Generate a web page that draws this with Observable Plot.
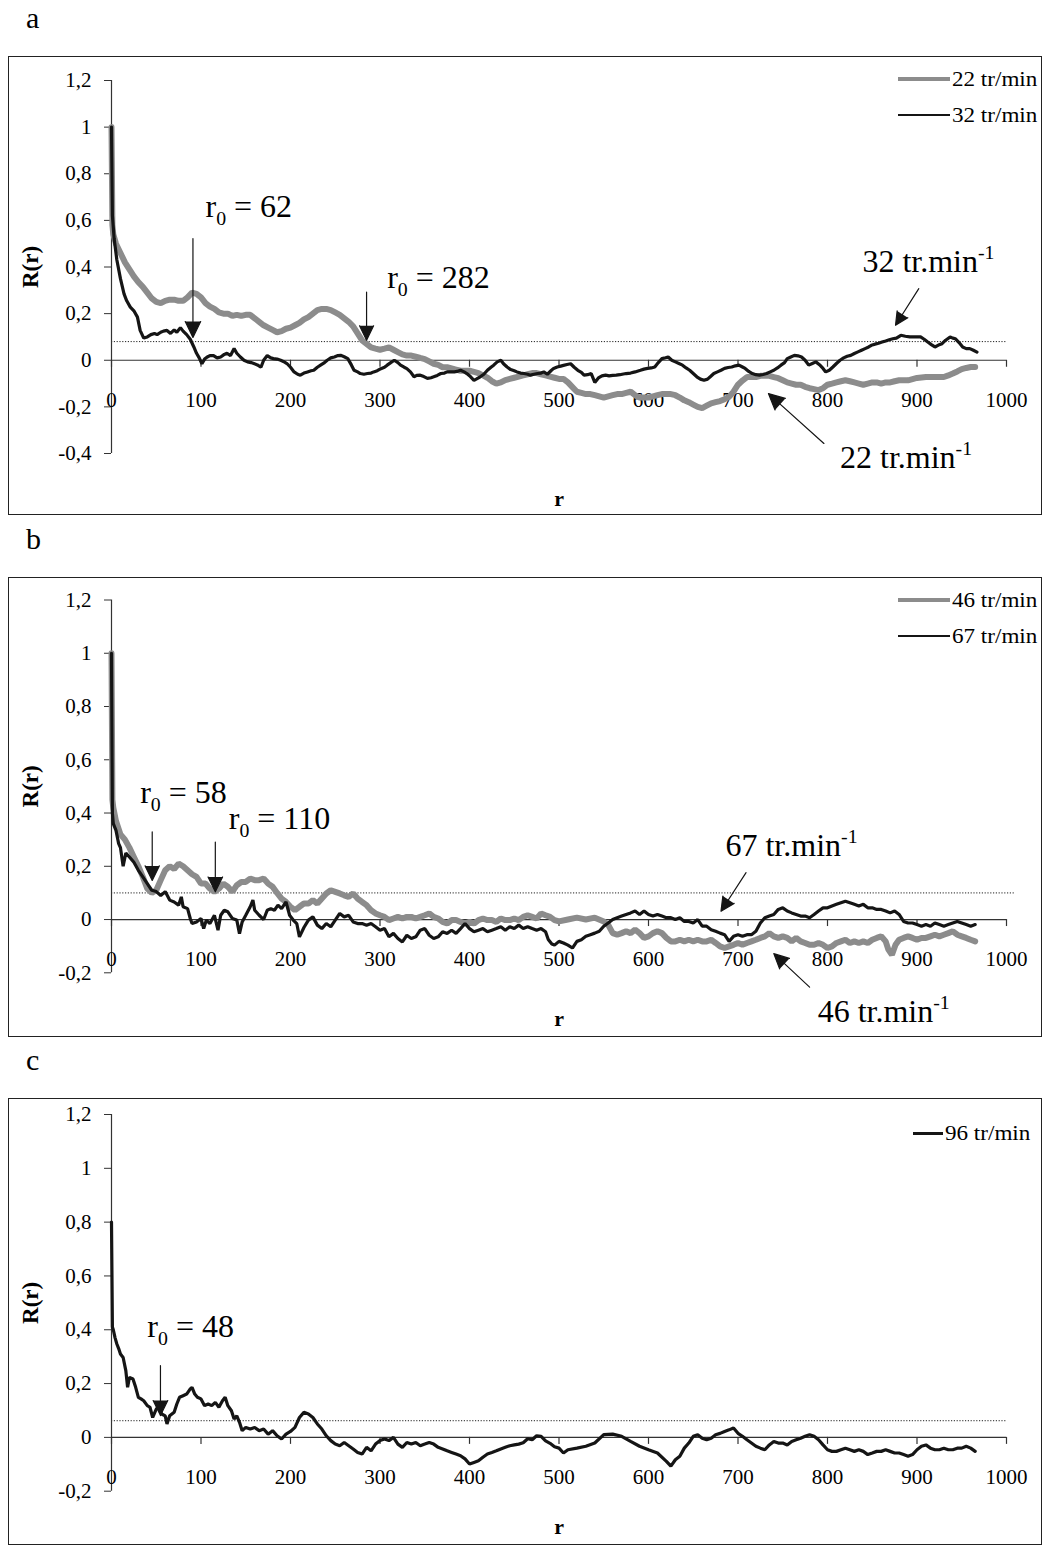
<!DOCTYPE html>
<html><head><meta charset="utf-8">
<script src="https://cdn.jsdelivr.net/npm/d3@7"></script>
<script src="https://cdn.jsdelivr.net/npm/@observablehq/plot@0.6"></script>
<style>
body{margin:0;background:#fff;font-family:"Liberation Serif","Times New Roman",serif;color:#000;}
#page{position:relative;width:1049px;height:1548px;overflow:hidden;}
.box{position:absolute;border:1.3px solid #222;box-sizing:border-box;}
.plot{position:absolute;}
.letter{position:absolute;font-size:30px;line-height:30px;}
.leg{position:absolute;height:24px;line-height:24px;font-size:22px;white-space:nowrap;display:flex;align-items:center;}
.leg .sw{display:inline-block;margin-right:2px;}
.leg .tx{display:inline-block;transform:scaleX(1.05);transform-origin:left center;}
</style></head><body><div id="page"></div>
<script>
// ---------- data: [r, R(r)] ----------
const xTicks = [0,100,200,300,400,500,600,700,800,900,1000];
const yTicksA = [-0.4,-0.2,0,0.2,0.4,0.6,0.8,1,1.2];
const yTicksBC = [-0.2,0,0.2,0.4,0.6,0.8,1,1.2];

const a22 = [[0,1],[1,0.58],[2,0.54],[5,0.5],[10,0.46],[15,0.42],[20,0.39],[25,0.36],[30,0.335],[35,0.315],[40,0.29],[45,0.265],[50,0.25],[55,0.245],[60,0.255],[65,0.26],[70,0.26],[75,0.255],[80,0.255],[85,0.27],[90,0.29],[95,0.285],[100,0.27],[105,0.245],[110,0.23],[115,0.22],[120,0.205],[125,0.2],[130,0.2],[135,0.19],[140,0.195],[145,0.19],[150,0.195],[155,0.195],[160,0.18],[165,0.165],[170,0.15],[175,0.14],[180,0.13],[185,0.12],[190,0.125],[195,0.135],[200,0.14],[205,0.15],[210,0.16],[215,0.175],[220,0.185],[225,0.2],[230,0.215],[235,0.22],[240,0.22],[245,0.215],[250,0.205],[255,0.195],[260,0.18],[265,0.165],[270,0.145],[275,0.115],[280,0.085],[285,0.07],[290,0.055],[295,0.05],[300,0.045],[305,0.05],[310,0.055],[315,0.045],[320,0.035],[325,0.025],[330,0.02],[335,0.02],[340,0.015],[345,0.01],[350,0.005],[355,-0.005],[360,-0.015],[365,-0.02],[370,-0.03],[375,-0.03],[380,-0.035],[385,-0.04],[390,-0.045],[395,-0.045],[400,-0.045],[405,-0.05],[410,-0.055],[415,-0.065],[420,-0.075],[425,-0.09],[430,-0.1],[435,-0.095],[440,-0.085],[445,-0.08],[450,-0.075],[455,-0.07],[460,-0.065],[465,-0.06],[470,-0.055],[475,-0.055],[480,-0.06],[485,-0.065],[490,-0.07],[495,-0.075],[500,-0.08],[505,-0.08],[510,-0.095],[515,-0.115],[520,-0.135],[525,-0.14],[530,-0.145],[535,-0.145],[540,-0.15],[545,-0.155],[550,-0.16],[555,-0.155],[560,-0.15],[565,-0.145],[570,-0.145],[575,-0.14],[580,-0.135],[585,-0.15],[590,-0.16],[595,-0.16],[600,-0.16],[605,-0.155],[610,-0.15],[615,-0.145],[620,-0.145],[625,-0.145],[630,-0.15],[635,-0.16],[640,-0.172],[645,-0.18],[650,-0.19],[655,-0.2],[660,-0.205],[665,-0.195],[670,-0.185],[675,-0.18],[680,-0.175],[685,-0.167],[690,-0.157],[695,-0.135],[700,-0.105],[705,-0.087],[710,-0.072],[715,-0.072],[720,-0.072],[725,-0.067],[730,-0.067],[735,-0.067],[740,-0.072],[745,-0.077],[750,-0.086],[755,-0.095],[760,-0.1],[765,-0.105],[770,-0.105],[775,-0.114],[780,-0.12],[785,-0.124],[790,-0.128],[795,-0.12],[800,-0.105],[805,-0.1],[810,-0.095],[815,-0.09],[820,-0.086],[825,-0.09],[830,-0.095],[835,-0.1],[840,-0.105],[845,-0.1],[850,-0.095],[855,-0.095],[860,-0.1],[865,-0.095],[870,-0.095],[875,-0.09],[880,-0.086],[885,-0.086],[890,-0.086],[895,-0.081],[900,-0.076],[905,-0.074],[910,-0.072],[915,-0.072],[920,-0.072],[925,-0.072],[930,-0.072],[935,-0.065],[940,-0.057],[945,-0.048],[950,-0.038],[955,-0.033],[960,-0.029],[965,-0.029]];

const a32 = [[0,1],[1,0.62],[3,0.52],[6,0.43],[10,0.35],[14,0.285],[17,0.255],[21,0.228],[25,0.212],[29,0.185],[32,0.128],[36,0.095],[40,0.1],[44,0.11],[48,0.115],[51,0.11],[55,0.12],[58,0.125],[62,0.128],[66,0.115],[70,0.13],[73,0.12],[77,0.14],[80,0.125],[84,0.11],[88,0.09],[92,0.057],[95,0.03],[98,0.01],[101,-0.015],[104,0.005],[107,0.014],[110,0.02],[114,0.02],[118,0.01],[122,0.014],[126,0.025],[129,0.03],[133,0.02],[137,0.05],[140,0.03],[144,0.014],[148,0],[152,-0.007],[156,-0.01],[159,-0.014],[163,-0.02],[167,-0.03],[170,0],[174,0.02],[178,0.01],[181,0.007],[185,0.005],[189,0],[192,-0.005],[196,-0.014],[200,-0.03],[204,-0.05],[208,-0.06],[211,-0.064],[215,-0.055],[219,-0.05],[223,-0.045],[226,-0.043],[230,-0.03],[234,-0.02],[238,-0.01],[241,0],[245,0.01],[249,0.014],[253,0.02],[256,0.021],[260,0.015],[264,0.007],[268,-0.02],[271,-0.043],[275,-0.05],[278,-0.057],[282,-0.06],[286,-0.057],[290,-0.055],[293,-0.05],[297,-0.045],[301,-0.036],[305,-0.03],[308,-0.021],[312,-0.01],[316,0],[320,-0.01],[323,-0.021],[327,-0.03],[330,-0.036],[334,-0.05],[338,-0.071],[341,-0.065],[345,-0.064],[349,-0.07],[353,-0.078],[357,-0.075],[360,-0.071],[364,-0.065],[368,-0.057],[372,-0.055],[375,-0.05],[379,-0.05],[383,-0.05],[386,-0.048],[390,-0.043],[394,-0.05],[397,-0.057],[401,-0.07],[405,-0.086],[408,-0.08],[412,-0.071],[416,-0.06],[420,-0.043],[424,-0.03],[427,-0.021],[431,-0.007],[435,0],[438,-0.015],[442,-0.029],[446,-0.04],[450,-0.045],[453,-0.05],[457,-0.055],[461,-0.057],[465,-0.06],[468,-0.064],[472,-0.06],[476,-0.057],[480,-0.055],[483,-0.05],[487,-0.06],[491,-0.045],[494,-0.035],[498,-0.029],[502,-0.025],[505,-0.022],[509,-0.018],[513,-0.015],[517,-0.03],[521,-0.043],[525,-0.052],[528,-0.064],[532,-0.062],[536,-0.057],[540,-0.095],[544,-0.076],[548,-0.067],[552,-0.064],[556,-0.067],[560,-0.065],[564,-0.064],[568,-0.062],[572,-0.059],[575,-0.057],[580,-0.055],[585,-0.05],[591,-0.043],[595,-0.038],[599,-0.035],[603,-0.033],[607,-0.029],[611,-0.01],[615,0.007],[619,0.011],[622,0.014],[626,0],[630,-0.007],[634,-0.014],[638,-0.021],[642,-0.033],[646,-0.043],[650,-0.057],[654,-0.071],[658,-0.081],[662,-0.086],[666,-0.081],[669,-0.071],[673,-0.057],[677,-0.05],[681,-0.043],[685,-0.035],[689,-0.031],[693,-0.029],[697,-0.024],[701,-0.021],[705,-0.029],[708,-0.035],[712,-0.048],[716,-0.057],[720,-0.062],[724,-0.064],[728,-0.061],[732,-0.057],[736,-0.05],[740,-0.043],[744,-0.033],[748,-0.021],[752,-0.01],[755,0.007],[759,0.014],[763,0.021],[767,0.019],[771,0.014],[775,0],[779,-0.021],[783,-0.014],[787,-0.007],[791,-0.019],[795,-0.035],[798,-0.05],[802,-0.043],[806,-0.029],[810,-0.014],[814,0],[818,0.01],[822,0.017],[826,0.021],[830,0.029],[834,0.036],[838,0.043],[842,0.05],[846,0.057],[849,0.064],[853,0.069],[857,0.073],[861,0.078],[865,0.083],[869,0.088],[873,0.092],[877,0.095],[882,0.107],[887,0.103],[892,0.1],[897,0.1],[904,0.1],[908,0.09],[912,0.078],[916,0.067],[920,0.057],[924,0.065],[928,0.071],[932,0.086],[937,0.1],[940,0.095],[943,0.092],[947,0.076],[951,0.057],[955,0.05],[959,0.05],[963,0.043],[967,0.035]];

const b46 = [[0,1],[1,0.45],[2,0.42],[5,0.37],[10,0.32],[15,0.3],[20,0.27],[25,0.235],[30,0.2],[35,0.16],[40,0.116],[45,0.1],[50,0.11],[55,0.148],[60,0.185],[65,0.2],[70,0.19],[75,0.21],[80,0.2],[85,0.185],[90,0.17],[95,0.16],[100,0.135],[105,0.135],[110,0.116],[115,0.104],[120,0.116],[125,0.135],[130,0.123],[135,0.104],[140,0.129],[145,0.141],[150,0.141],[155,0.154],[160,0.148],[165,0.148],[170,0.154],[175,0.135],[180,0.123],[185,0.1],[190,0.079],[195,0.066],[200,0.048],[205,0.035],[210,0.048],[215,0.06],[220,0.06],[225,0.073],[230,0.06],[235,0.079],[240,0.098],[245,0.11],[250,0.104],[255,0.098],[260,0.091],[265,0.085],[270,0.098],[275,0.079],[280,0.066],[285,0.054],[290,0.035],[295,0.023],[300,0.016],[305,0.01],[310,-0.002],[315,0.004],[320,0.01],[325,0.004],[330,0.01],[335,0.01],[340,0.004],[345,0.01],[350,0.016],[355,0.023],[360,0.01],[365,0.004],[370,-0.009],[375,-0.015],[380,-0.002],[385,-0.002],[390,-0.009],[395,-0.015],[400,-0.009],[405,-0.015],[410,-0.002],[415,0.004],[420,-0.002],[425,-0.002],[430,-0.009],[435,0.004],[440,-0.002],[445,-0.002],[450,0.004],[455,-0.002],[460,0.01],[465,0.016],[470,0.01],[475,0.004],[480,0.023],[485,0.016],[490,0.01],[495,-0.002],[500,-0.007],[510,0],[520,0.007],[530,0],[540,0.007],[550,-0.007],[555,-0.02],[560,-0.051],[565,-0.057],[570,-0.051],[575,-0.044],[580,-0.051],[585,-0.038],[590,-0.051],[595,-0.069],[600,-0.063],[605,-0.051],[610,-0.044],[615,-0.051],[620,-0.069],[625,-0.082],[630,-0.082],[635,-0.076],[640,-0.082],[645,-0.076],[650,-0.082],[655,-0.076],[660,-0.082],[665,-0.082],[670,-0.076],[675,-0.088],[680,-0.101],[685,-0.107],[690,-0.101],[695,-0.095],[700,-0.088],[705,-0.095],[710,-0.088],[715,-0.082],[720,-0.076],[725,-0.069],[730,-0.063],[735,-0.051],[740,-0.063],[745,-0.069],[750,-0.063],[755,-0.069],[760,-0.082],[765,-0.069],[770,-0.082],[775,-0.088],[780,-0.095],[785,-0.095],[790,-0.088],[795,-0.095],[800,-0.107],[805,-0.101],[810,-0.088],[815,-0.082],[820,-0.076],[825,-0.088],[830,-0.082],[835,-0.088],[840,-0.082],[845,-0.088],[850,-0.076],[855,-0.069],[860,-0.063],[865,-0.082],[868,-0.113],[872,-0.132],[876,-0.095],[880,-0.076],[885,-0.069],[890,-0.063],[895,-0.069],[900,-0.076],[905,-0.069],[910,-0.069],[915,-0.063],[920,-0.057],[925,-0.063],[930,-0.057],[935,-0.051],[940,-0.044],[945,-0.057],[950,-0.063],[955,-0.069],[960,-0.076],[965,-0.082]];

const b67 = [[0,1],[1,0.4],[2,0.36],[5,0.335],[8,0.285],[10,0.27],[13,0.2],[16,0.25],[20,0.235],[25,0.215],[30,0.185],[35,0.16],[40,0.135],[45,0.11],[50,0.105],[55,0.09],[60,0.105],[65,0.073],[70,0.066],[75,0.054],[78,0.085],[80,0.048],[85,0.041],[88,0.004],[90,-0.015],[95,-0.009],[100,0.004],[103,-0.034],[106,-0.002],[110,-0.015],[115,0.016],[119,-0.04],[122,0.016],[126,0.035],[130,0.029],[135,0.004],[140,-0.002],[143,-0.053],[146,-0.009],[150,0.016],[155,0.048],[158,0.073],[160,0.035],[165,0.016],[170,0],[174,0.035],[178,0.041],[182,0.035],[186,0.054],[190,0.041],[195,0.066],[199,0.016],[203,-0.002],[207,-0.015],[210,-0.065],[215,-0.03],[220,-0.002],[225,0.01],[230,-0.021],[235,-0.034],[240,-0.015],[245,-0.027],[250,-0.002],[255,0.023],[260,0.01],[265,0.016],[270,-0.009],[275,-0.015],[280,-0.015],[285,-0.021],[290,-0.015],[295,-0.027],[300,-0.04],[305,-0.034],[310,-0.065],[315,-0.052],[320,-0.071],[325,-0.084],[330,-0.059],[335,-0.071],[340,-0.065],[345,-0.04],[350,-0.034],[355,-0.059],[360,-0.071],[365,-0.065],[370,-0.046],[375,-0.052],[380,-0.04],[385,-0.052],[390,-0.034],[395,-0.015],[400,-0.034],[405,-0.046],[410,-0.04],[415,-0.034],[420,-0.046],[425,-0.04],[430,-0.034],[435,-0.027],[440,-0.04],[445,-0.027],[450,-0.034],[455,-0.021],[460,-0.034],[465,-0.027],[470,-0.034],[475,-0.04],[480,-0.034],[485,-0.046],[488,-0.075],[492,-0.092],[495,-0.096],[500,-0.082],[505,-0.088],[510,-0.096],[515,-0.107],[520,-0.082],[525,-0.076],[530,-0.063],[535,-0.057],[540,-0.051],[545,-0.044],[550,-0.025],[555,-0.013],[560,0],[565,0.007],[570,0.013],[575,0.019],[580,0.025],[585,0.032],[590,0.019],[595,0.032],[600,0.019],[605,0.013],[610,0.019],[615,0.013],[620,0.007],[625,0.007],[630,0],[635,0.007],[640,-0.007],[645,-0.007],[650,-0.013],[655,0],[660,-0.025],[665,-0.025],[670,-0.038],[675,-0.044],[680,-0.051],[685,-0.057],[690,-0.082],[695,-0.063],[700,-0.057],[705,-0.063],[710,-0.057],[715,-0.057],[720,-0.044],[725,-0.013],[730,0.007],[735,0.013],[740,0.019],[745,0.038],[750,0.044],[755,0.032],[760,0.025],[765,0.019],[770,0.013],[775,0.013],[780,0.007],[785,0.019],[790,0.032],[795,0.044],[800,0.044],[805,0.051],[810,0.057],[815,0.063],[820,0.069],[825,0.063],[830,0.057],[835,0.051],[840,0.057],[845,0.044],[850,0.044],[855,0.038],[860,0.038],[865,0.032],[870,0.025],[875,0.032],[880,0.019],[885,-0.007],[890,-0.013],[895,-0.013],[900,-0.019],[905,-0.025],[910,-0.019],[915,-0.025],[920,-0.013],[925,-0.019],[930,-0.025],[935,-0.019],[940,-0.013],[945,-0.007],[950,-0.013],[955,-0.019],[960,-0.025],[965,-0.019]];

const c96 = [[0,0.8],[1,0.41],[2,0.4],[4,0.37],[6,0.347],[8,0.33],[10,0.31],[13,0.297],[16,0.248],[18,0.186],[20,0.223],[24,0.217],[27,0.186],[30,0.149],[33,0.143],[36,0.136],[40,0.118],[43,0.112],[46,0.074],[50,0.105],[53,0.118],[56,0.087],[60,0.08],[62,0.05],[65,0.08],[70,0.093],[73,0.124],[76,0.149],[80,0.155],[84,0.161],[88,0.18],[90,0.186],[93,0.161],[96,0.149],[100,0.143],[104,0.118],[108,0.124],[112,0.118],[116,0.13],[120,0.112],[124,0.136],[127,0.149],[130,0.118],[134,0.099],[137,0.068],[140,0.08],[143,0.056],[146,0.025],[150,0.037],[155,0.031],[160,0.037],[165,0.025],[170,0.031],[175,0.012],[180,0.025],[185,0.006],[190,-0.006],[195,0.012],[200,0.022],[205,0.037],[210,0.074],[215,0.093],[220,0.087],[225,0.074],[230,0.05],[235,0.031],[240,0.006],[245,-0.012],[250,-0.025],[255,-0.031],[260,-0.019],[265,-0.031],[270,-0.043],[275,-0.056],[280,-0.062],[285,-0.037],[290,-0.05],[295,-0.025],[300,-0.012],[305,-0.006],[310,-0.012],[315,0],[320,-0.025],[325,-0.037],[330,-0.019],[335,-0.025],[340,-0.019],[345,-0.031],[350,-0.025],[355,-0.019],[360,-0.025],[365,-0.037],[370,-0.043],[375,-0.05],[380,-0.056],[385,-0.062],[390,-0.068],[395,-0.08],[400,-0.099],[405,-0.093],[410,-0.087],[415,-0.074],[420,-0.062],[425,-0.056],[430,-0.05],[435,-0.043],[440,-0.037],[445,-0.031],[450,-0.028],[455,-0.025],[460,-0.02],[465,-0.005],[470,-0.009],[475,0.006],[480,0.004],[485,-0.013],[490,-0.022],[495,-0.035],[500,-0.04],[505,-0.058],[510,-0.046],[520,-0.04],[530,-0.033],[540,-0.021],[550,0.01],[560,0.012],[570,0.004],[580,-0.015],[590,-0.033],[600,-0.046],[610,-0.058],[620,-0.089],[625,-0.107],[630,-0.083],[635,-0.07],[640,-0.04],[645,-0.021],[650,0.004],[655,0.01],[660,-0.003],[665,-0.009],[670,-0.003],[675,0.01],[680,0.015],[685,0.022],[690,0.028],[695,0.035],[700,0.015],[705,0.004],[710,-0.009],[715,-0.021],[720,-0.033],[725,-0.04],[730,-0.046],[735,-0.028],[740,-0.015],[745,-0.021],[750,-0.021],[755,-0.028],[760,-0.015],[765,-0.009],[770,-0.003],[775,0.004],[780,0.01],[785,0.004],[790,-0.009],[795,-0.028],[800,-0.046],[805,-0.052],[810,-0.052],[815,-0.046],[820,-0.04],[825,-0.046],[830,-0.052],[835,-0.046],[840,-0.052],[845,-0.064],[850,-0.058],[855,-0.052],[860,-0.052],[865,-0.046],[870,-0.052],[875,-0.058],[880,-0.058],[885,-0.064],[890,-0.07],[895,-0.064],[900,-0.046],[905,-0.033],[910,-0.028],[915,-0.04],[920,-0.046],[925,-0.046],[930,-0.04],[935,-0.046],[940,-0.046],[945,-0.04],[950,-0.04],[955,-0.033],[960,-0.04],[965,-0.052]];

// annotations (data coordinates)
const notesA = [{x:105,y:0.614,t:"r_0 = 62"},{x:308,y:0.308,t:"r_0 = 282"},{x:839,y:0.378,t:"32 tr.min^-1"},{x:814,y:-0.464,t:"22 tr.min^-1"}];
const arrowsA = [{x1:91,y1:0.522,x2:91,y2:0.098},{x1:285,y1:0.292,x2:285,y2:0.086},{x1:902,y1:0.307,x2:876,y2:0.15},{x1:796,y1:-0.357,x2:734,y2:-0.143}];
const notesB = [{x:32,y:0.436,t:"r_0 = 58"},{x:131,y:0.341,t:"r_0 = 110"},{x:686,y:0.239,t:"67 tr.min^-1"},{x:789,y:-0.385,t:"46 tr.min^-1"}];
const arrowsB = [{x1:45.5,y1:0.329,x2:45.5,y2:0.147},{x1:116,y1:0.291,x2:116,y2:0.104},{x1:709,y1:0.176,x2:681,y2:0.031},{x1:780,y1:-0.254,x2:740,y2:-0.128}];
const notesC = [{x:40,y:0.372,t:"r_0 = 48"}];
const arrowsC = [{x1:54.7,y1:0.267,x2:54.7,y2:0.081}];

const GRAY = "#8c8c8c", BLACK = "#151515";

const panels = [
  {letter:"a", top:56, height:459, mt:24, mb:62, yDomain:[-0.4,1.2], yTicks:yTicksA, thr:0.08, thrEnd:1000, rDy:45,
   series:[{d:a22,c:GRAY,w:6},{d:a32,c:BLACK,w:3.2}], notes:notesA, arrows:arrowsA,
   legend:[{label:"22 tr/min",c:GRAY,w:4,cy:79,x:898,len:52},{label:"32 tr/min",c:BLACK,w:2.4,cy:115,x:898,len:52}]},
  {letter:"b", top:577, height:460, mt:22.5, mb:64.7, yDomain:[-0.2,1.2], yTicks:yTicksBC, thr:0.1, thrEnd:1009, rDy:46,
   series:[{d:b46,c:GRAY,w:6},{d:b67,c:BLACK,w:3.2}], notes:notesB, arrows:arrowsB,
   legend:[{label:"46 tr/min",c:GRAY,w:4,cy:600,x:898,len:52},{label:"67 tr/min",c:BLACK,w:2.4,cy:636,x:898,len:52}]},
  {letter:"c", top:1098, height:447, mt:16, mb:54.3, yDomain:[-0.2,1.2], yTicks:yTicksBC, thr:0.062, thrEnd:1000, rDy:36,
   series:[{d:c96,c:BLACK,w:3.2}], notes:notesC, arrows:arrowsC,
   legend:[{label:"96 tr/min",c:BLACK,w:3,cy:1133,x:913,len:30}]}
];

const fmt = d => String(d).replace(".", ",");
const page = document.getElementById("page");

function richText(svg) {
  const ns = "http://www.w3.org/2000/svg";
  svg.querySelectorAll("text").forEach(t => {
    const s = t.textContent;
    const m = s.match(/^(.*?)([_^])(\S+)(.*)$/);
    if (!m) return;
    while (t.firstChild) t.removeChild(t.firstChild);
    const add = (txt, attrs) => { const e = document.createElementNS(ns, "tspan"); e.textContent = txt; for (const k in attrs) e.setAttribute(k, attrs[k]); t.appendChild(e); };
    const shift = m[2] === "_" ? 8 : -13;
    add(m[1], {});
    add(m[3], {dy: shift, "font-size": "0.62em"});
    if (m[4]) add(m[4], {dy: -shift});
  });
}

for (const p of panels) {
  const box = document.createElement("div");
  box.className = "box";
  Object.assign(box.style, {left:"8px", top:p.top+"px", width:"1034px", height:p.height+"px"});
  page.appendChild(box);

  const let_ = document.createElement("div");
  let_.className = "letter";
  let_.textContent = p.letter;
  Object.assign(let_.style, {left:"26px", top:(p.top-53)+"px"});
  page.appendChild(let_);

  const marks = [
    Plot.ruleY([p.thr], {x1: 0, x2: p.thrEnd, stroke: "#222", strokeWidth: 1, strokeDasharray: "1.2 1.6"}),
    Plot.ruleY([0], {stroke: "#333", strokeWidth: 1.2}),
    Plot.ruleX([0], {stroke: "#333", strokeWidth: 1.2}),
    Plot.ruleX(xTicks, {x: d => d, y1: 0, y2: 0, insetBottom: -7, stroke: "#333", strokeWidth: 1.2}),
    Plot.axisY({ticks: p.yTicks, tickFormat: fmt, tickSize: 7, tickPadding: 13, fontSize: 21, label: null, stroke: "#333"}),
    Plot.text(xTicks, {x: d => d, y: 0, dy: 40, text: d => String(d), fontSize: 21, lineAnchor: "middle"}),
    ...p.series.map(s => Plot.line(s.d, {x: d => d[0], y: d => d[1], stroke: s.c, strokeWidth: s.w, strokeLinejoin: "miter"})),
    Plot.arrow(p.arrows, {x1: "x1", y1: "y1", x2: "x2", y2: "y2", stroke: BLACK, fill: BLACK, strokeWidth: 1.2, headLength: 22, headAngle: 52}),
    Plot.text(p.notes, {x: "x", y: "y", text: "t", textAnchor: "start", lineAnchor: "bottom", fontSize: 32}),
    Plot.text(["r"], {frameAnchor: "bottom", dy: p.rDy, text: d => d, fontWeight: "bold", fontSize: 22, lineAnchor: "middle"}),
    Plot.text(["R(r)"], {frameAnchor: "left", dx: -81, rotate: -90, text: d => d, fontWeight: "bold", fontSize: 23, textAnchor: "middle", lineAnchor: "middle"})
  ];

  const svg = Plot.plot({
    width: 1034, height: p.height,
    marginLeft: 103, marginRight: 36, marginTop: p.mt, marginBottom: p.mb,
    x: {domain: [0, 1000], axis: null},
    y: {domain: p.yDomain, axis: null},
    style: {fontFamily: "'Liberation Serif','Times New Roman',serif", color: "#000", background: "transparent", overflow: "visible"},
    marks
  });
  richText(svg);
  svg.classList.add("plot");
  Object.assign(svg.style, {position: "absolute", left: "8px", top: p.top + "px"});
  page.appendChild(svg);

  for (const l of p.legend) {
    const row = document.createElement("div");
    row.className = "leg";
    Object.assign(row.style, {left: l.x + "px", top: (l.cy - 12) + "px"});
    const sw = document.createElement("span");
    sw.className = "sw";
    Object.assign(sw.style, {width: l.len + "px", height: l.w + "px", background: l.c});
    const tx = document.createElement("span");
    tx.className = "tx";
    tx.textContent = l.label;
    row.appendChild(sw); row.appendChild(tx);
    page.appendChild(row);
  }
}
</script></body></html>
